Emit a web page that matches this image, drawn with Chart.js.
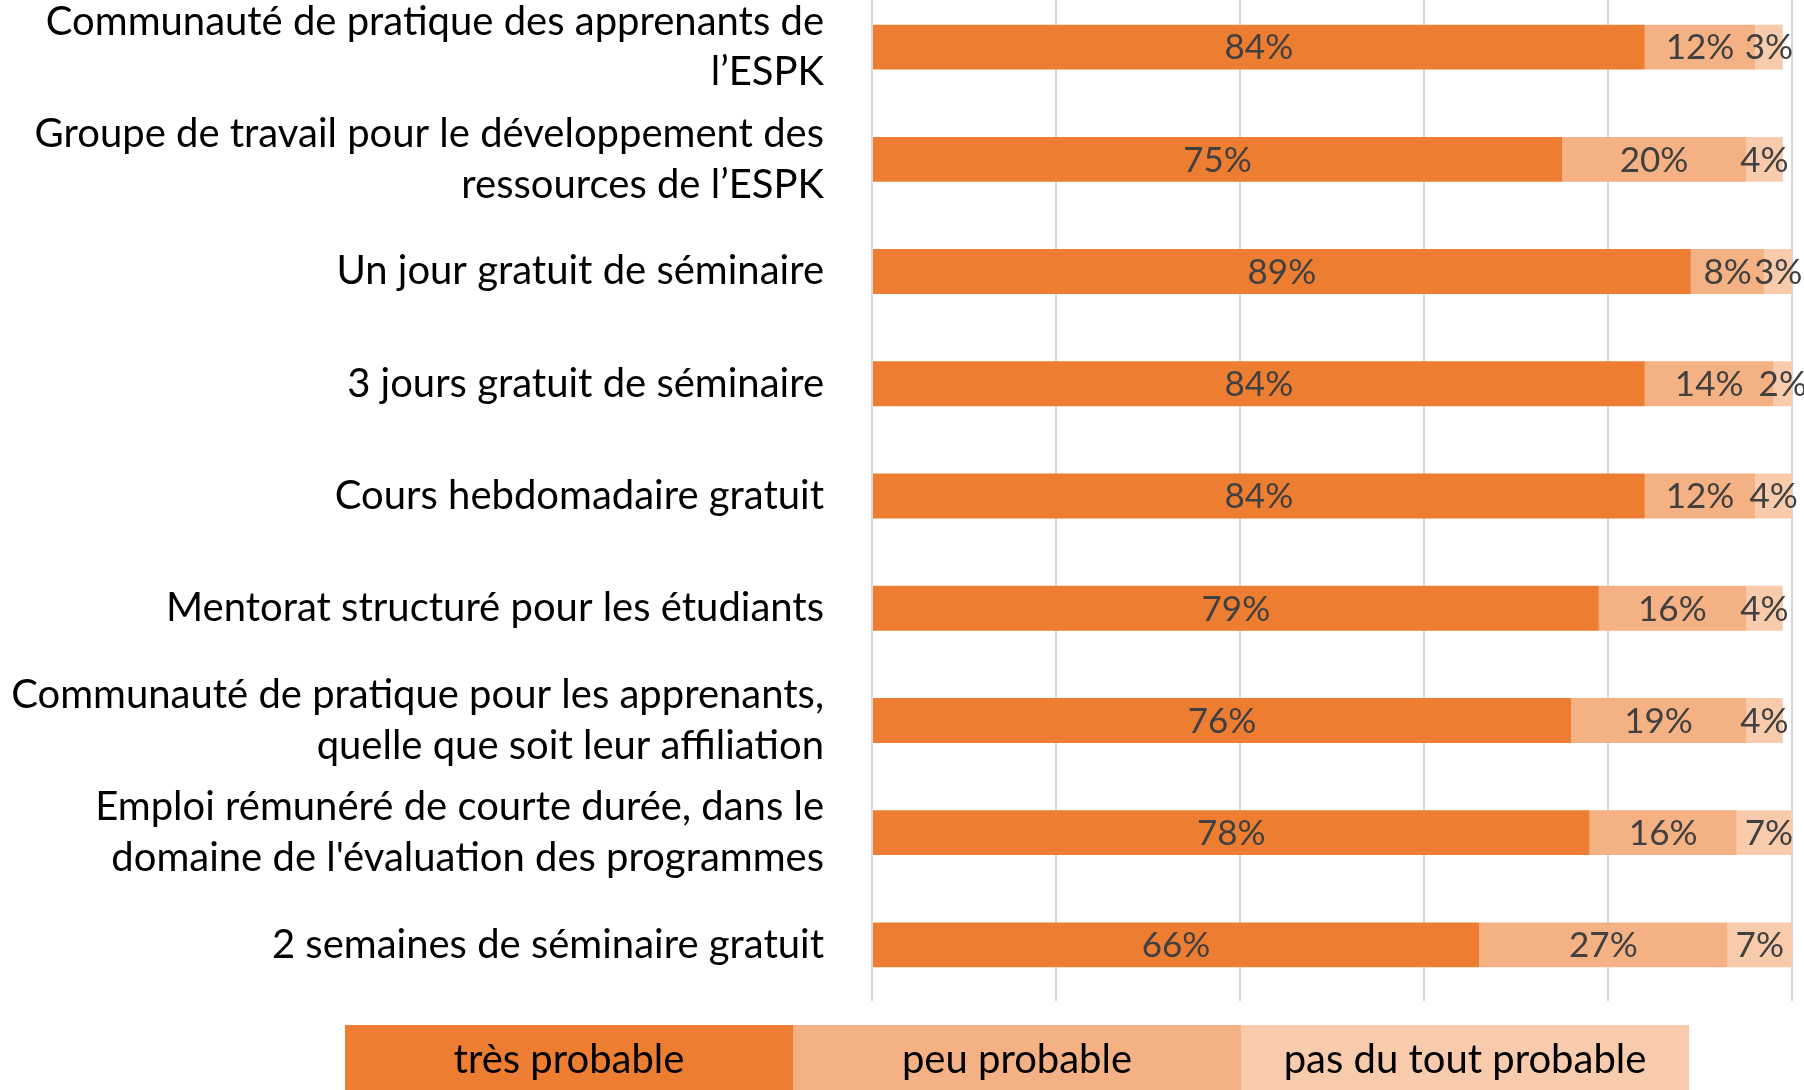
<!DOCTYPE html>
<html>
<head>
<meta charset="utf-8">
<script src="https://cdn.jsdelivr.net/npm/chart.js@4.4.1/dist/chart.umd.min.js"></script>
<style>
  html, body { margin: 0; padding: 0; background: #ffffff; overflow: hidden; width: 1804px; height: 1090px; }
  #wrap { position: absolute; left: 0; top: -9px; width: 1804px; height: 1110px; }
</style>
</head>
<body>
<div id="wrap"><canvas id="chart"></canvas></div>
<script>
// Categories (multi-line labels are arrays of lines)
const categories = [
  ["Communauté de pratique des apprenants de", "l’ESPK"],
  ["Groupe de travail pour le développement des", "ressources de l’ESPK"],
  "Un jour gratuit de séminaire",
  "3 jours gratuit de séminaire",
  "Cours hebdomadaire gratuit",
  "Mentorat structuré pour les étudiants",
  ["Communauté de pratique pour les apprenants,", "quelle que soit leur affiliation"],
  ["Emploi rémunéré de courte durée, dans le", "domaine de l'évaluation des programmes"],
  "2 semaines de séminaire gratuit"
];

const seriesNames = ["très probable", "peu probable", "pas du tout probable"];

// Percentages per answer
const tresProbable = [84, 75, 89, 84, 84, 79, 76, 78, 66];
const peuProbable  = [12, 20,  8, 14, 12, 16, 19, 16, 27];
const pasDuTout    = [ 3,  4,  3,  2,  4,  4,  4,  7,  7];

const xTicks = [0, 20, 40, 60, 80, 100];

const seriesColors = ["#ED7D31", "#F4B183", "#F8CBAD"];
const FONT = "Lato";

// Value labels centred in every bar segment
const segmentLabels = {
  id: "segmentLabels",
  afterDatasetsDraw(chart) {
    const ctx = chart.ctx;
    ctx.save();
    ctx.font = "35px " + FONT;
    ctx.fillStyle = "#404040";
    ctx.textAlign = "center";
    ctx.textBaseline = "middle";
    chart.data.datasets.forEach((ds, di) => {
      chart.getDatasetMeta(di).data.forEach((bar, i) => {
        const p = bar.getProps(["x", "y", "base"], true);
        ctx.fillText(ds.data[i] + "%", (p.x + p.base) / 2, p.y + 1);
      });
    });
    ctx.restore();
  }
};

// Legend drawn as filled blocks with the series name inside
const blockLegend = {
  id: "blockLegend",
  afterDraw(chart, args, opts) {
    const ctx = chart.ctx;
    ctx.save();
    ctx.font = opts.fontSize + "px " + FONT;
    ctx.textAlign = "center";
    ctx.textBaseline = "middle";
    chart.data.datasets.forEach((ds, i) => {
      const x = opts.left + i * opts.boxWidth;
      ctx.fillStyle = ds.backgroundColor;
      ctx.fillRect(x, opts.top, opts.boxWidth, opts.boxHeight);
      ctx.fillStyle = "#000000";
      ctx.fillText(ds.label, x + opts.boxWidth / 2, opts.top + opts.textOffset);
    });
    ctx.restore();
  }
};

new Chart(document.getElementById("chart"), {
  type: "bar",
  data: {
    labels: categories,
    datasets: [
      { label: seriesNames[0], data: tresProbable, backgroundColor: seriesColors[0] },
      { label: seriesNames[1], data: peuProbable,  backgroundColor: seriesColors[1] },
      { label: seriesNames[2], data: pasDuTout,    backgroundColor: seriesColors[2] }
    ]
  },
  options: {
    indexAxis: "y",
    responsive: true,
    maintainAspectRatio: false,
    animation: false,
    devicePixelRatio: 1,
    layout: { padding: { top: 0, right: 12, bottom: 100, left: 0 } },
    datasets: { bar: { categoryPercentage: 1.0, barPercentage: 0.4, borderWidth: 0 } },
    plugins: {
      legend: { display: false },
      tooltip: { enabled: false },
      blockLegend: { left: 345, top: 1034, boxWidth: 448, boxHeight: 80, textOffset: 35, fontSize: 40 }
    },
    scales: {
      x: {
        stacked: true,
        min: 0,
        max: 100,
        afterBuildTicks(scale) { scale.ticks = xTicks.map(v => ({ value: v })); },
        afterFit(scale) { scale.height = 0; scale.paddingLeft = 0; scale.paddingRight = 0; },
        ticks: { display: false },
        grid: { color: "#D9D9D9", lineWidth: 2, drawTicks: false },
        border: { display: false }
      },
      y: {
        stacked: true,
        afterFit(scale) { scale.width = 872; scale.paddingTop = 0; scale.paddingBottom = 0; },
        grid: { display: false },
        border: { display: false },
        ticks: {
          color: "#000000",
          padding: 40,
          font: { family: FONT, size: 40, lineHeight: 1.265 }
        }
      }
    }
  },
  plugins: [segmentLabels, blockLegend]
});
</script>
</body>
</html>
